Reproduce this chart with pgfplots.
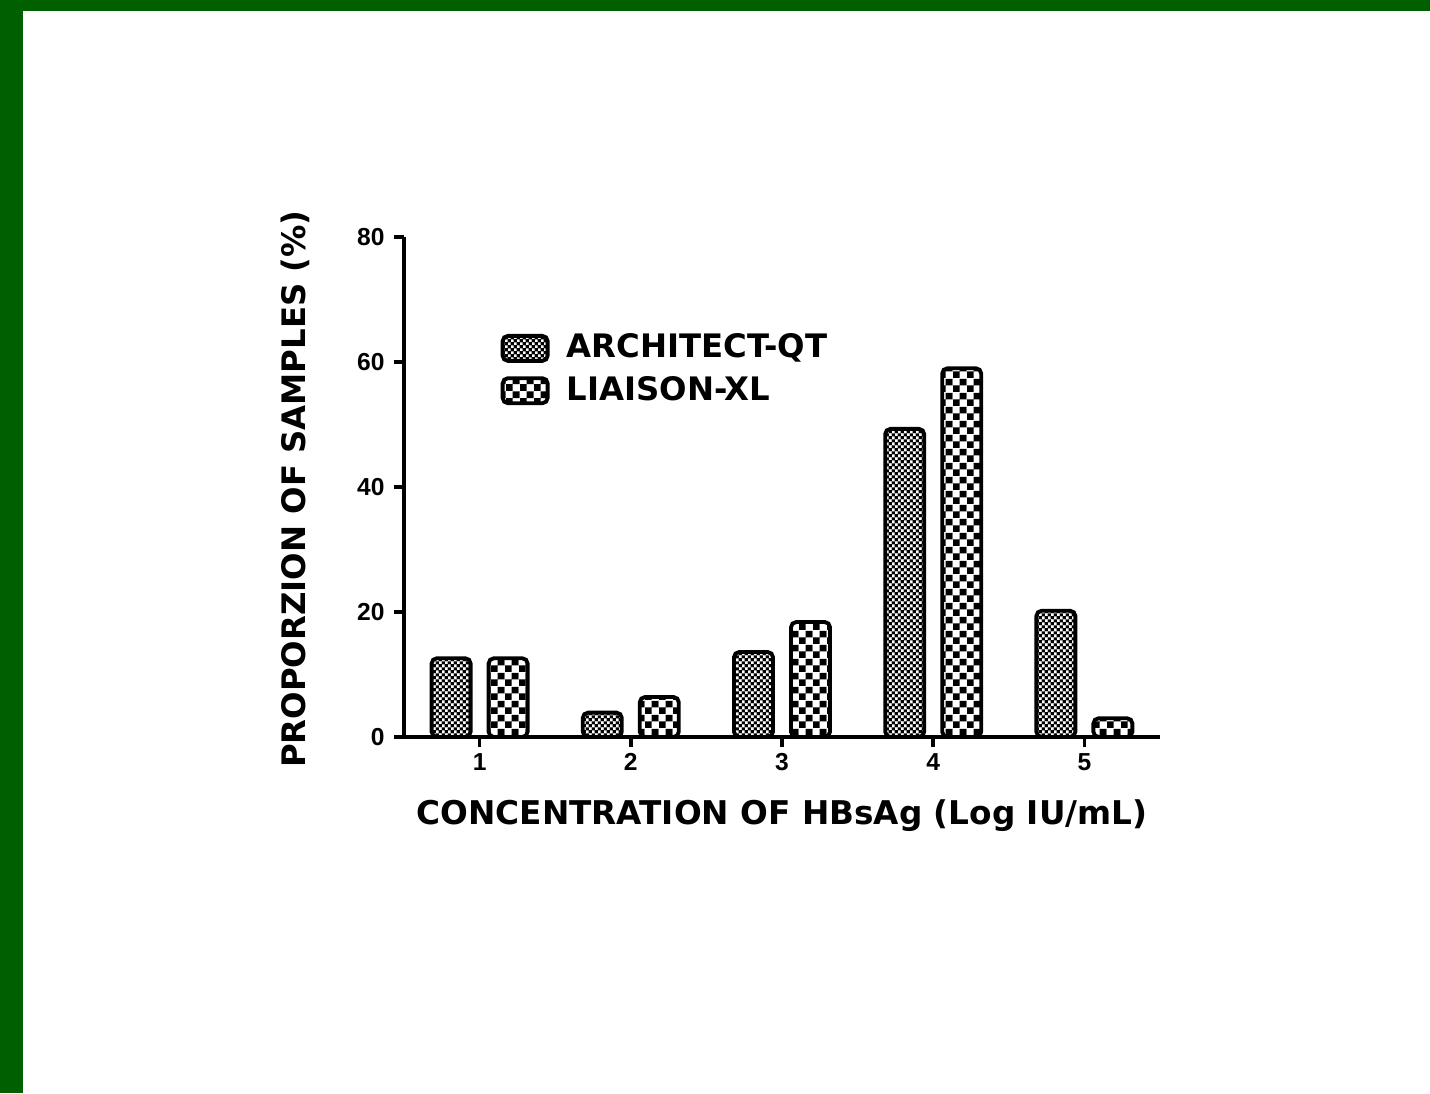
\documentclass[border=0pt]{standalone}
\usepackage{pgfplots}
\pgfplotsset{compat=1.18}
\usepackage{fontspec}
\usetikzlibrary{patterns,patterns.meta}
\newfontfamily\labelfont{DejaVu Sans}
\newfontfamily\tickfont{Liberation Sans}
\definecolor{framegreen}{RGB}{0,96,0}

\pgfdeclarepattern{
  name=archpat, type=colored,
  bottom left={\pgfpoint{0pt}{0pt}}, top right={\pgfpoint{1.8pt}{1.8pt}},
  tile size={\pgfpoint{1.8pt}{1.8pt}},
  code={
    \pgfsetfillcolor{black}
    \pgfpathrectangle{\pgfpointorigin}{\pgfpoint{1.8pt}{1.8pt}}\pgfusepath{fill}
    \pgfsetfillcolor{white}
    \pgfpathrectangle{\pgfpoint{0.05pt}{0.05pt}}{\pgfpoint{0.8pt}{0.8pt}}
    \pgfpathrectangle{\pgfpoint{0.95pt}{0.95pt}}{\pgfpoint{0.8pt}{0.8pt}}
    \pgfusepath{fill}
  }
}
\pgfdeclarepattern{
  name=liaipat, type=colored,
  bottom left={\pgfpoint{0pt}{0pt}}, top right={\pgfpoint{4pt}{4pt}},
  tile size={\pgfpoint{4pt}{4pt}},
  code={
    \pgfsetfillcolor{white}
    \pgfpathrectangle{\pgfpointorigin}{\pgfpoint{4pt}{4pt}}\pgfusepath{fill}
    \pgfsetfillcolor{black}
    \pgfpathrectangle{\pgfpoint{0pt}{0pt}}{\pgfpoint{2pt}{2pt}}
    \pgfpathrectangle{\pgfpoint{2pt}{2pt}}{\pgfpoint{2pt}{2pt}}
    \pgfusepath{fill}
  }
}

\begin{document}
\begin{tikzpicture}[x=1cm,y=1cm]
\fill[framegreen] (0,0) rectangle (14.3,10.93);
\fill[white] (0.23,0) rectangle (14.3,10.82);
\useasboundingbox (0,0) rectangle (14.3,10.93);
\begin{axis}[
  at={(4.04cm,3.56cm)}, anchor=south west,
  scale only axis, width=7.56cm, height=5.0cm,
  xmin=0.5, xmax=5.5, ymin=0, ymax=80,
  axis x line=bottom, axis y line=left,
  axis line style={-, line width=1pt, black},
  every tick/.style={line width=1pt, black},
  tick align=outside, major tick length=0.1cm,
  xtick={1,2,3,4,5}, ytick={0,20,40,60,80},
  /pgf/number format/assume math mode=true,
  tick label style={font=\tickfont\bfseries\fontsize{7}{8}\selectfont},
  xticklabel style={yshift=0.06cm},
  yticklabel style={xshift=0.03cm},
  ybar, bar width=0.39cm,
  xlabel={CONCENTRATION OF HBsAg (Log IU/mL)},
  ylabel={PROPORZION OF SAMPLES (\%)},
  label style={font=\labelfont\bfseries\fontsize{9.2}{11}\selectfont},
  xlabel style={at={(axis description cs:0.5,-0.158)}, anchor=center, font=\labelfont\bfseries\fontsize{9.3}{11}\selectfont},
  ylabel style={at={(axis description cs:-0.144,0.496)}, anchor=center},
  legend style={at={(axis description cs:0.127,0.822)}, anchor=north west,
    draw=none, fill=none, font=\labelfont\bfseries\fontsize{9.2}{11}\selectfont,
    row sep=-0.01cm, inner sep=0pt},
  legend cell align=left,
  legend image code/.code={\draw[#1, rounded corners=1.5pt] (0cm,-0.125cm) rectangle (0.45cm,0.125cm); \path (0.55cm,0);},
]
\addplot[draw=black, line width=1.1pt, pattern=archpat, rounded corners=1.5pt, bar shift=-0.285cm]
  coordinates {(1,12.6) (2,3.9) (3,13.6) (4,49.3) (5,20.2)};
\addplot[draw=black, line width=1.1pt, pattern=liaipat, rounded corners=1.5pt, bar shift=0.285cm]
  coordinates {(1,12.6) (2,6.4) (3,18.4) (4,59.0) (5,3.0)};
\legend{ARCHITECT-QT, LIAISON-XL}
\end{axis}
\end{tikzpicture}
\end{document}
